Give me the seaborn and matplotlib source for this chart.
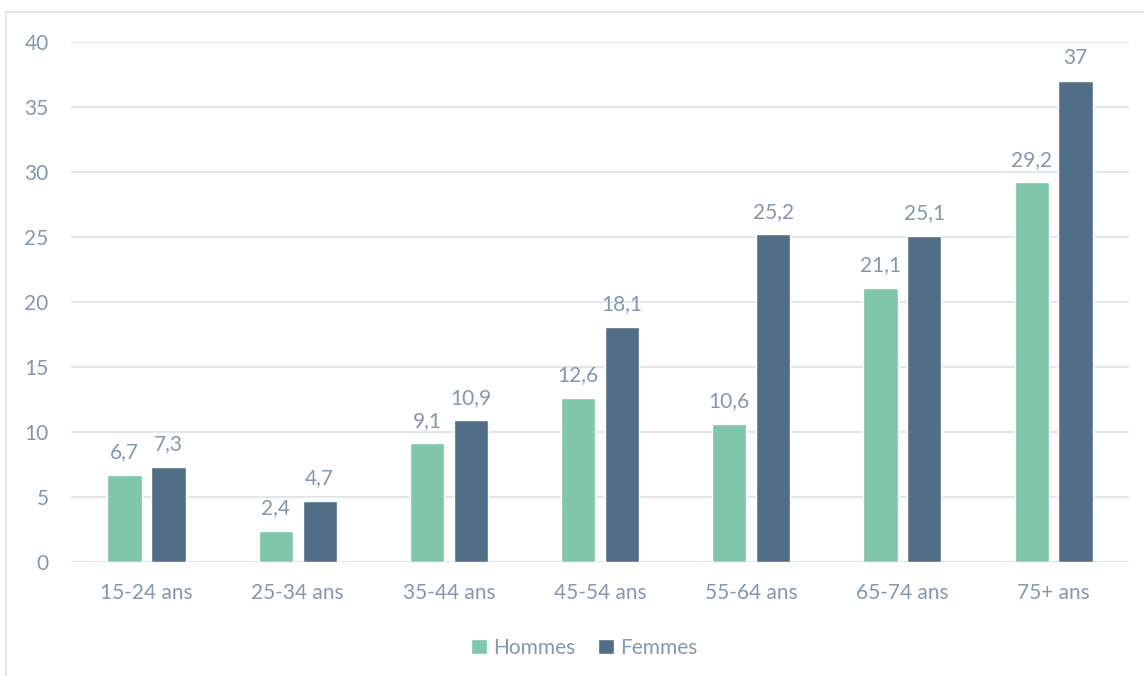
import pandas as pd
import seaborn as sns
import matplotlib.pyplot as plt
from matplotlib.lines import Line2D

categories = ["15-24 ans", "25-34 ans", "35-44 ans", "45-54 ans", "55-64 ans", "65-74 ans", "75+ ans"]
hommes = [6.7, 2.4, 9.1, 12.6, 10.6, 21.1, 29.2]
femmes = [7.3, 4.7, 10.9, 18.1, 25.2, 25.1, 37]
series = ["Hommes", "Femmes"]
palette = {"Hommes": "#7FC6AA", "Femmes": "#526E87"}
y_ticks = [0, 5, 10, 15, 20, 25, 30, 35, 40]

df = pd.DataFrame({
    "age": categories * 2,
    "sexe": ["Hommes"] * len(categories) + ["Femmes"] * len(categories),
    "valeur": hommes + femmes,
})

sns.set_theme(style="white")
plt.rcParams['font.family'] = ['Lato', 'DejaVu Sans']
text_col = "#8298B0"
grid_col = "#E1E7ED"
fs = 15

fig = plt.figure(figsize=(11.44, 6.76), dpi=100)
ax = fig.add_axes([0.062, 0.169, 0.925, 0.769])

sns.barplot(data=df, x="age", y="valeur", hue="sexe", hue_order=series,
            order=categories, palette=palette, width=0.58, gap=0.22,
            saturation=1, ax=ax, legend=True)

ax.set_xlim(-0.5, len(categories) - 0.5)
ax.set_ylim(0, 40)
ax.set_yticks(y_ticks)
ax.yaxis.grid(True, color=grid_col, linewidth=1.5)
ax.set_axisbelow(True)
for s in ax.spines.values():
    s.set_visible(False)
ax.tick_params(axis="both", length=0, labelsize=fs, colors=text_col)
ax.tick_params(axis="y", pad=16)
ax.tick_params(axis="x", pad=15)
ax.set_xlabel("")
ax.set_ylabel("")

for cont in ax.containers:
    vals = cont.datavalues
    labels = [("%g" % v).replace(".", ",") for v in vals]
    ax.bar_label(cont, labels=labels, padding=9, color=text_col, fontsize=fs)

handles, labs = ax.get_legend_handles_labels()
ax.legend(handles, labs, loc="upper center", bbox_to_anchor=(0.485, -0.11),
          ncol=2, frameon=False, fontsize=fs, labelcolor=text_col,
          handlelength=0.75, handleheight=0.75, handletextpad=0.3, columnspacing=1.1)

# outer frame (left and top edges visible)
fig.add_artist(Line2D([6 / 1144, 6 / 1144], [0, 1 - 12 / 676], transform=fig.transFigure,
                      color=grid_col, linewidth=1.5))
fig.add_artist(Line2D([6 / 1144, 1], [1 - 12 / 676, 1 - 12 / 676], transform=fig.transFigure,
                      color=grid_col, linewidth=1.5))

fig.savefig("out.png", dpi=100)
